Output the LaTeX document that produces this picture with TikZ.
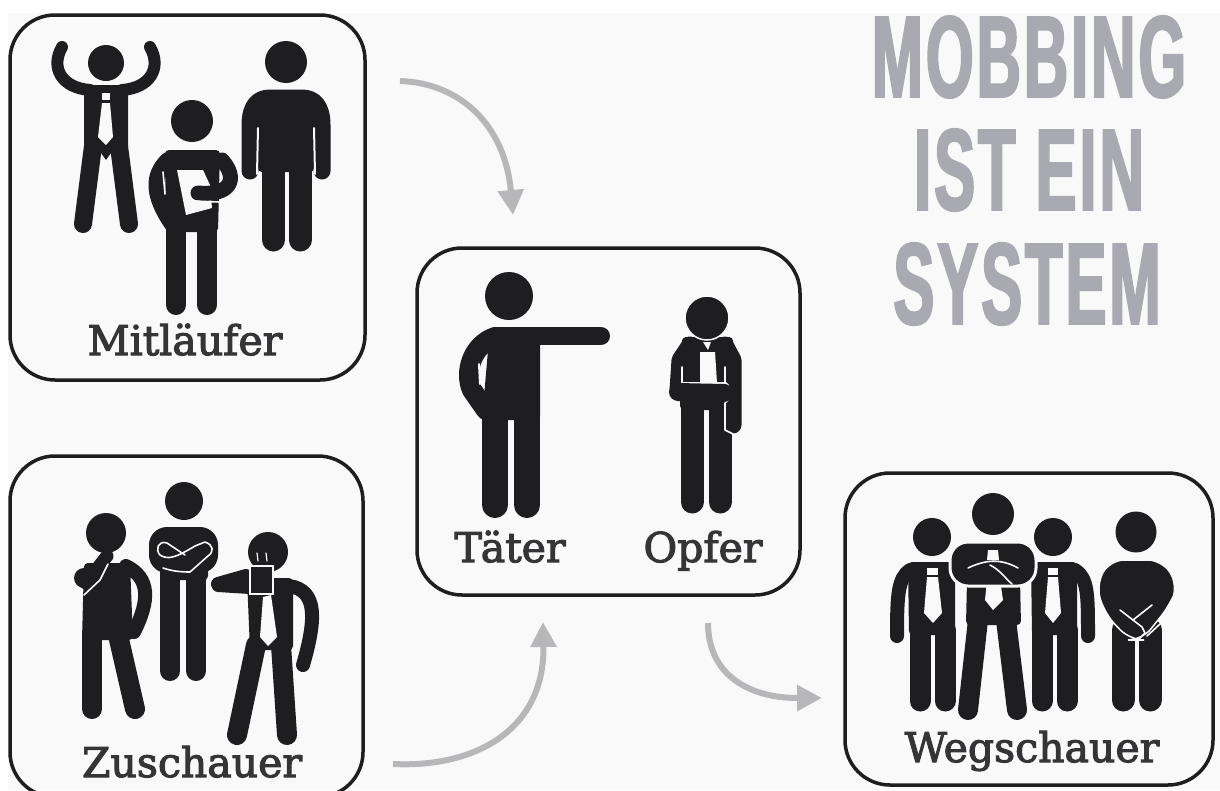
\documentclass[tikz,border=0pt]{standalone}
\usepackage{fontspec}
\usetikzlibrary{arrows.meta}
\newfontfamily\labelfont[FakeBold=2.6]{DejaVu Serif}
\newfontfamily\titlefont[FakeStretch=0.53,FakeBold=1.8,LetterSpace=2.5]{Liberation Sans Bold}
\definecolor{ink}{HTML}{1E1D20}
\definecolor{paper}{HTML}{F9F9F9}
\definecolor{titlegray}{HTML}{A9A9B1}
\definecolor{flowgray}{HTML}{B7B7BA}
\begin{document}
\begin{tikzpicture}[
    x=1pt, y=-1pt,
    box/.style={draw=ink, line width=3.5pt, rounded corners=45pt, inner sep=0pt},
    role/.style={anchor=base, text=ink!90, inner sep=0pt, font=\labelfont\fontsize{41}{41}\selectfont},
    headline/.style={text=titlegray, inner sep=0pt, font=\titlefont\fontsize{116}{116}\selectfont},
    flow/.style={draw=flowgray, line width=6pt, -{Triangle[length=25pt,width=25pt]}},
    head/.style={fill=ink},
    torso/.style={fill=ink, rounded corners=4pt},
    limb/.style={draw=ink, line cap=round, line join=round},
    tie/.style={fill=paper},
    crease/.style={draw=paper, line width=1.6pt, line cap=round, line join=round}
    ]

    \useasboundingbox (0,0) rectangle (1220,790);
    \fill[white] (0,0) rectangle (1220,790);
    \fill[paper] (8,13) rectangle (1220,790);

    % title
    \node[headline] (T1) at (1029,57) {MOBBING};
    \node[headline] (T2) at (1029,170) {IST EIN};
    \node[headline] (T3) at (1027,284) {SYSTEM};

    % boxes
    \node[box, minimum width=355pt, minimum height=365pt] (Mit) at (187.5,197.5) {};
    \node[box, minimum width=353pt, minimum height=341pt] (Zus) at (186.5,626.5) {};
    \node[box, minimum width=383pt, minimum height=347pt] (Tat) at (608.5,421.5) {};
    \node[box, minimum width=368pt, minimum height=312pt] (Weg) at (1029,629) {};

    % labels
    \node[role] (LMit) at (185,355) {Mitläufer};
    \node[role] (LZus) at (192,777) {Zuschauer};
    \node[role] (LTat) at (510,562) {Täter};
    \node[role] (LOpf) at (703,562) {Opfer};
    \node[role] (LWeg) at (1032,762) {Wegschauer};

    % arrows
    \coordinate (A1) at (400,81);
    \coordinate (B1) at (513,215);
    \coordinate (A2) at (393,764);
    \coordinate (B2) at (543,622);
    \coordinate (A3) at (708,623);
    \coordinate (B3) at (822,698);
    \draw[flow] (A1) .. controls (460,83) and (505,125) .. (B1);
    \draw[flow] (A2) .. controls (475,768) and (545,730) .. (B2);
    \draw[flow] (A3) .. controls (708,672) and (745,698) .. (B3);

    % arms up
    \fill[head] (106,63) circle (18);
    \draw[limb, line width=12pt] (62,47) .. controls (50,68) and (62,88) .. (90,90);
    \draw[limb, line width=12pt] (150,47) .. controls (162,68) and (150,88) .. (122,90);
    \fill[torso] (84,85) -- (128,85) -- (128,150) -- (84,150) -- cycle;
    \draw[limb, line width=18pt] (93,146) -- (83,224);
    \draw[limb, line width=18pt] (119,146) -- (129,224);
    \fill[ink] (96,146) -- (116,146) -- (106,160) -- cycle;
    \fill[tie] (102,93) rectangle (110,100);
    \fill[tie] (102,103) -- (110,103) -- (113,137) -- (106,145) -- (98,137) -- cycle;

    % clipboard
    \fill[head] (192,121) circle (21);
    \fill[torso] (165,150) -- (220,150) -- (218,232) -- (166,232) -- cycle;
    \draw[limb, line width=20pt] (176,228) -- (176,305);
    \draw[limb, line width=20pt] (207,228) -- (207,305);
    \draw[limb, line width=16pt] (168,160) .. controls (152,175) and (152,195) .. (172,224);
    \fill[paper] (177,170) -- (203,170) -- (210,185) -- (212,208) -- (186,215) -- cycle;
    \draw[crease] (163,172) -- (165,194);
    \draw[limb, line width=15pt] (222,160) .. controls (238,178) and (232,196) .. (198,193);
    \draw[crease] (191,201) -- (220,202);

    % plain
    \fill[head] (286,62) circle (21);
    \draw[limb, line width=17pt] (250,171) -- (250,125) .. controls (250,106) and (258,98) .. (270,98)
        -- (302,98) .. controls (314,98) and (322,106) .. (322,125) -- (322,171);
    \fill[torso] (258,100) rectangle (314,172);
    \draw[limb, line width=23pt] (273.5,165) -- (273.5,240);
    \draw[limb, line width=23pt] (300,165) -- (300,240);
    \draw[crease, line width=2pt] (258,128) -- (257,174);
    \draw[crease, line width=2pt] (314,128) -- (315,174);

    % hand at mouth
    \fill[head] (106,533) circle (20);
    \fill[torso] (84,563) -- (130,563) -- (133,640) -- (82,640) -- cycle;
    \draw[limb, line width=20pt] (92,635) -- (92,709);
    \draw[limb, line width=20pt] (118,635) -- (135,709);
    \draw[limb, line width=14pt] (126,566) .. controls (150,578) and (150,600) .. (134,632);
    \fill[ink] (84,578) circle (10);
    \draw[limb, line width=13pt] (86,583) -- (107,556);
    \draw[crease] (84,595) -- (100,580) -- (108,564);
    \draw[crease] (132,580) -- (134,606);

    % crossed arms
    \fill[head] (184,501) circle (19);
    \fill[torso, rounded corners=18pt] (149,527) rectangle (218,573);
    \fill[torso] (160,565) rectangle (208,580);
    \draw[limb, line width=20pt] (170,573) -- (170,671);
    \draw[limb, line width=20pt] (196,573) -- (196,671);
    \draw[crease] (185,555) -- (167,543) .. controls (158,540) and (155,550) .. (160,555) .. controls (168,560) and (175,558) .. (195,546)
        -- (205,542) .. controls (214,545) and (214,552) .. (208,556) -- (190,572) .. controls (180,572) and (172,571) .. (163,568);

    % coffee
    \fill[head] (268,552) circle (20);
    \fill[torso] (247,578) -- (293,578) -- (293,650) -- (250,650) -- cycle;
    \draw[limb, line width=20pt] (256,645) -- (237,735);
    \draw[limb, line width=20pt] (281,645) -- (287,735);
    \draw[limb, line width=14pt] (289,586) .. controls (318,590) and (316,620) .. (303,665);
    \draw[limb, line width=14pt] (218,584) -- (246,576);
    \draw[limb, line width=12pt] (218,586) -- (250,588);
    \fill[ink, draw=paper, line width=1.4pt] (250,566) rectangle (273,594);
    \draw[crease, line width=1.2pt] (257,553) -- (258,561);
    \draw[crease, line width=1.2pt] (266,553) -- (267,561);
    \fill[tie] (263,597) -- (271,595) -- (277,637) -- (268,646) -- (260,637) -- cycle;

    % perpetrator
    \fill[head] (509,296) circle (24);
    \draw[limb, line width=18pt] (530,336) -- (601,336);
    \fill[torso] (490,327) -- (540,327) -- (540,420) -- (482,420) -- cycle;
    \draw[limb, line width=20pt] (495,337) .. controls (472,345) and (464,372) .. (472,390) -- (486,410);
    \draw[crease, line width=2pt] (479,364) -- (480,384);
    \draw[limb, line width=26pt] (495,417) -- (495,505);
    \draw[limb, line width=26pt] (527,417) -- (527,505);

    % victim
    \fill[torso] (682,337) -- (733,337) -- (736,410) -- (680,410) -- cycle;
    \draw[limb, line width=23pt] (692,407) -- (692,502);
    \draw[limb, line width=23pt] (720,407) -- (720,502);
    \draw[limb, line width=17pt] (690,345) -- (680,360) -- (678,390);
    \draw[limb, line width=17pt] (725,345) -- (733,360) -- (733,425);
    \fill[tie] (700,352) -- (715,352) -- (717,383) -- (700,383) -- cycle;
    \fill[tie] (703,342) -- (711,342) -- (708,350) -- cycle;
    \fill[head, draw=paper, line width=1.5pt] (707,318) circle (22);
    \draw[crease] (682,367) -- (682,383) -- (726,383) .. controls (732,388) and (732,398) .. (725,403) -- (725,430) -- (733,434);
    \draw[crease] (725,367) -- (725,383);
    \draw[limb, line width=18pt] (678,392) -- (724,393);

    % bystander left
    \fill[head] (932,537) circle (19);
    \fill[torso] (908,562) -- (955,562) -- (955,635) -- (909,635) -- cycle;
    \draw[limb, line width=14pt] (910,570) .. controls (898,578) and (897,595) .. (897,636);
    \draw[limb, line width=21pt] (920,630) -- (920,701);
    \draw[limb, line width=21pt] (945,630) -- (945,701);
    \fill[tie] (927,568) rectangle (938,575);
    \fill[tie] (927,577) -- (938,577) -- (942,613) -- (933,623) -- (924,613) -- cycle;

    % bystander right
    \fill[head] (1053,537) circle (19);
    \fill[torso] (1031,562) -- (1077,562) -- (1077,635) -- (1032,635) -- cycle;
    \draw[limb, line width=14pt] (1075,570) .. controls (1088,578) and (1088,595) .. (1088,636);
    \draw[limb, line width=21pt] (1042,630) -- (1042,701);
    \draw[limb, line width=21pt] (1067,630) -- (1067,701);
    \fill[tie] (1048,568) rectangle (1058,575);
    \fill[tie] (1048,577) -- (1058,577) -- (1061,613) -- (1053,623) -- (1045,613) -- cycle;

    % bystander centre
    \fill[head] (993,514) circle (21);
    \fill[torso] (967,580) -- (1020,580) -- (1021,625) -- (966,625) -- cycle;
    \draw[limb, line width=20pt] (978,620) -- (968,710);
    \draw[limb, line width=20pt] (1006,620) -- (1017,710);
    \fill[tie] (987,580) -- (1000,580) -- (1003,600) -- (993,610) -- (985,600) -- cycle;
    \draw[crease, line width=3pt, fill=ink, rounded corners=18pt] (950,542) rectangle (1036,586);
    \fill[tie] (988,550) -- (998,550) -- (999,560) -- (987,560) -- cycle;
    \draw[crease] (968,568) .. controls (985,560) and (1000,558) .. (1018,568);
    \draw[crease] (990,565) .. controls (1000,570) and (1005,578) .. (1012,584);

    % bystander hands folded
    \fill[head] (1136,532) circle (20.5);
    \draw[limb, line width=23pt] (1123,630) -- (1123,700);
    \draw[limb, line width=23pt] (1150,630) -- (1150,700);
    \fill[torso, draw=paper, line width=1.5pt, rounded corners=14pt] (1110,560) -- (1162,560) -- (1178,585) -- (1170,605) -- (1142,640) -- (1130,640) -- (1105,614) -- (1096,585) -- cycle;
    \draw[crease] (1120,610) -- (1142,627) -- (1145,633) -- (1138,640);
    \draw[crease] (1133,620) -- (1152,605);
    \draw[crease] (1147,636) -- (1160,624);

\end{tikzpicture}
\end{document}
